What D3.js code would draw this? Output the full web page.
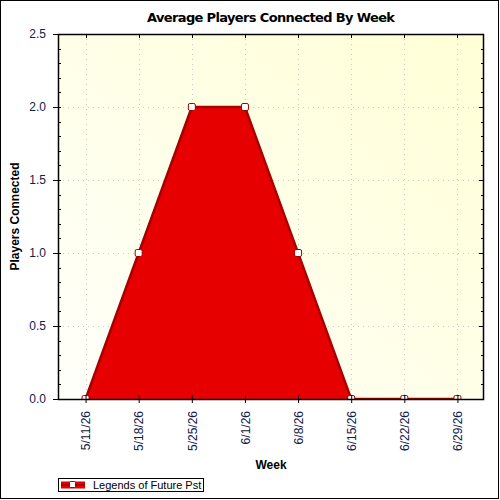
<!DOCTYPE html>
<html>
<head>
<meta charset="utf-8">
<script src="https://cdn.jsdelivr.net/npm/d3@7"></script>
<style>
    body { margin: 0; background: #fff; }
    svg { display: block; }
    text { font-family: "Liberation Sans", Arial, sans-serif; }
</style>
</head>
<body>
<svg id="chart" width="500" height="500"></svg>
<script>
// chart data
var weeks = ['5/11/26', '5/18/26', '5/25/26', '6/1/26', '6/8/26', '6/15/26', '6/22/26', '6/29/26'];
var players = [0, 1, 2, 2, 1, 0, 0, 0];
var yMajorTicks = [0, 0.5, 1.0, 1.5, 2.0, 2.5];
var seriesName = 'Legends of Future Pst';

var svg = d3.select('#chart'),
    width = +svg.attr('width'),
    height = +svg.attr('height');

var plot = {left: 58, top: 34, right: 484, bottom: 399};

var x = d3.scalePoint()
    .domain(weeks)
    .range([plot.left + 1, plot.right])
    .padding(0.5);

var y = d3.scaleLinear()
    .domain([0, 2.5])
    .range([plot.bottom, plot.top]);

var defs = svg.append('defs');
var grad = defs.append('linearGradient')
    .attr('id', 'bg')
    .attr('x1', '0%').attr('y1', '100%')
    .attr('x2', '100%').attr('y2', '0%');
grad.append('stop').attr('offset', '0%').attr('stop-color', '#fffffb');
grad.append('stop').attr('offset', '100%').attr('stop-color', '#ffffd6');

defs.append('clipPath').attr('id', 'clip')
    .append('rect')
    .attr('x', plot.left).attr('y', plot.top)
    .attr('width', plot.right - plot.left).attr('height', plot.bottom - plot.top);

// outer frame
svg.append('rect')
    .attr('x', 0.5).attr('y', 0.5)
    .attr('width', width - 2).attr('height', height - 2)
    .attr('fill', '#fff')
    .attr('stroke', '#000');

// plot background
svg.append('rect')
    .attr('x', plot.left).attr('y', plot.top)
    .attr('width', plot.right - plot.left).attr('height', plot.bottom - plot.top)
    .attr('fill', 'url(#bg)');

// grid
var grid = svg.append('g').attr('class', 'grid')
    .attr('stroke', '#c8c8c8')
    .attr('stroke-dasharray', '1,4');
grid.selectAll('line.v')
    .data(weeks)
    .enter().append('line')
    .attr('class', 'v')
    .attr('x1', function (d) { return Math.round(x(d)) + 0.5; })
    .attr('x2', function (d) { return Math.round(x(d)) + 0.5; })
    .attr('y1', plot.top)
    .attr('y2', plot.bottom);
grid.selectAll('line.h')
    .data(yMajorTicks.slice(1, -1))
    .enter().append('line')
    .attr('class', 'h')
    .attr('x1', plot.left)
    .attr('x2', plot.right)
    .attr('y1', function (d) { return Math.round(y(d)) + 0.5; })
    .attr('y2', function (d) { return Math.round(y(d)) + 0.5; });

// area series
var area = d3.area()
    .x(function (d, i) { return x(weeks[i]); })
    .y0(y(0))
    .y1(function (d) { return y(d); });

var line = d3.line()
    .x(function (d, i) { return x(weeks[i]); })
    .y(function (d) { return y(d); });

var series = svg.append('g').attr('clip-path', 'url(#clip)');

series.append('path')
    .datum(players)
    .attr('d', area)
    .attr('fill', '#e60000');

series.append('path')
    .datum(players)
    .attr('d', line)
    .attr('fill', 'none')
    .attr('stroke', '#a80000')
    .attr('stroke-width', 2.5);

series.selectAll('rect.marker')
    .data(players)
    .enter().append('rect')
    .attr('class', 'marker')
    .attr('x', function (d, i) { return x(weeks[i]) - 3.5; })
    .attr('y', function (d) { return y(d) - 3.5; })
    .attr('width', 7).attr('height', 7)
    .attr('rx', 1.5)
    .attr('fill', '#fff')
    .attr('stroke', '#a00000')
    .attr('stroke-width', 1);

// axes
var yMinor = d3.range(0, 2.51, 0.1).map(function (v) { return +v.toFixed(1); });

var axisLeft = d3.axisLeft(y)
    .tickValues(yMajorTicks)
    .tickSize(5)
    .tickPadding(7)
    .tickFormat(d3.format('.1f'));

var gLeft = svg.append('g')
    .attr('transform', 'translate(' + plot.left + ',0)')
    .call(axisLeft);
gLeft.select('.domain').remove();
gLeft.selectAll('text').attr('font-size', 12).attr('fill', '#10204a');

// minor ticks left (inside)
svg.append('g').selectAll('line')
    .data(yMinor)
    .enter().append('line')
    .attr('x1', plot.left)
    .attr('x2', plot.left + 3)
    .attr('y1', function (d) { return Math.round(y(d)) + 0.5; })
    .attr('y2', function (d) { return Math.round(y(d)) + 0.5; })
    .attr('stroke', '#000');

// right side ticks (inside)
svg.append('g').selectAll('line')
    .data(yMinor)
    .enter().append('line')
    .attr('x1', plot.right)
    .attr('x2', function (d) { return plot.right - (yMajorTicks.indexOf(d) >= 0 ? 5 : 3); })
    .attr('y1', function (d) { return Math.round(y(d)) + 0.5; })
    .attr('y2', function (d) { return Math.round(y(d)) + 0.5; })
    .attr('stroke', '#000');

var axisBottom = d3.axisBottom(x)
    .tickSize(4)
    .tickPadding(10);

var gBottom = svg.append('g')
    .attr('transform', 'translate(0,' + plot.bottom + ')')
    .call(axisBottom);
gBottom.select('.domain').remove();
gBottom.selectAll('.tick line').attr('y1', -4);
gBottom.selectAll('text')
    .attr('font-size', 12)
    .attr('fill', '#10204a')
    .attr('transform', 'rotate(-90)')
    .attr('text-anchor', 'end')
    .attr('x', -12)
    .attr('y', 0)
    .attr('dy', '0.35em');

// top ticks (inside)
svg.append('g').selectAll('line')
    .data(weeks)
    .enter().append('line')
    .attr('x1', function (d) { return Math.round(x(d)) + 0.5; })
    .attr('x2', function (d) { return Math.round(x(d)) + 0.5; })
    .attr('y1', plot.top)
    .attr('y2', plot.top + 4)
    .attr('stroke', '#000');

// plot border
svg.append('rect')
    .attr('x', plot.left + 0.5).attr('y', plot.top + 0.5)
    .attr('width', plot.right - plot.left - 1).attr('height', plot.bottom - plot.top)
    .attr('fill', 'none')
    .attr('stroke', '#000')
    .attr('stroke-width', 1.5);

// titles
svg.append('text')
    .attr('x', (plot.left + plot.right) / 2)
    .attr('y', 22)
    .attr('text-anchor', 'middle')
    .attr('font-size', 13)
    .attr('font-weight', 'bold')
    .style('font-family', '"DejaVu Sans", Verdana, sans-serif')
    .attr('textLength', 248)
    .text('Average Players Connected By Week');

svg.append('text')
    .attr('x', (plot.left + plot.right) / 2)
    .attr('y', 469)
    .attr('text-anchor', 'middle')
    .attr('font-size', 12)
    .attr('font-weight', 'bold')
    .text('Week');

svg.append('text')
    .attr('transform', 'translate(19,' + (plot.top + plot.bottom) / 2 + ') rotate(-90)')
    .attr('text-anchor', 'middle')
    .attr('font-size', 12)
    .attr('font-weight', 'bold')
    .text('Players Connected');

// legend
var legend = svg.append('g').attr('transform', 'translate(58.5,478.5)');
legend.append('rect')
    .attr('width', 145).attr('height', 13)
    .attr('fill', '#fff')
    .attr('stroke', '#000');
legend.append('rect')
    .attr('x', 2.5).attr('y', 3)
    .attr('width', 24).attr('height', 7)
    .attr('fill', '#e60000');
legend.append('line')
    .attr('x1', 2.5).attr('x2', 26.5)
    .attr('y1', 6.5).attr('y2', 6.5)
    .attr('stroke', '#a80000')
    .attr('stroke-width', 2);
legend.append('rect')
    .attr('x', 11).attr('y', 3)
    .attr('width', 6).attr('height', 6)
    .attr('rx', 1)
    .attr('fill', '#fff')
    .attr('stroke', '#a00000');
legend.append('text')
    .attr('x', 34.5)
    .attr('y', 10.5)
    .attr('font-size', 11)
    .text(seriesName);
</script>
</body>
</html>
